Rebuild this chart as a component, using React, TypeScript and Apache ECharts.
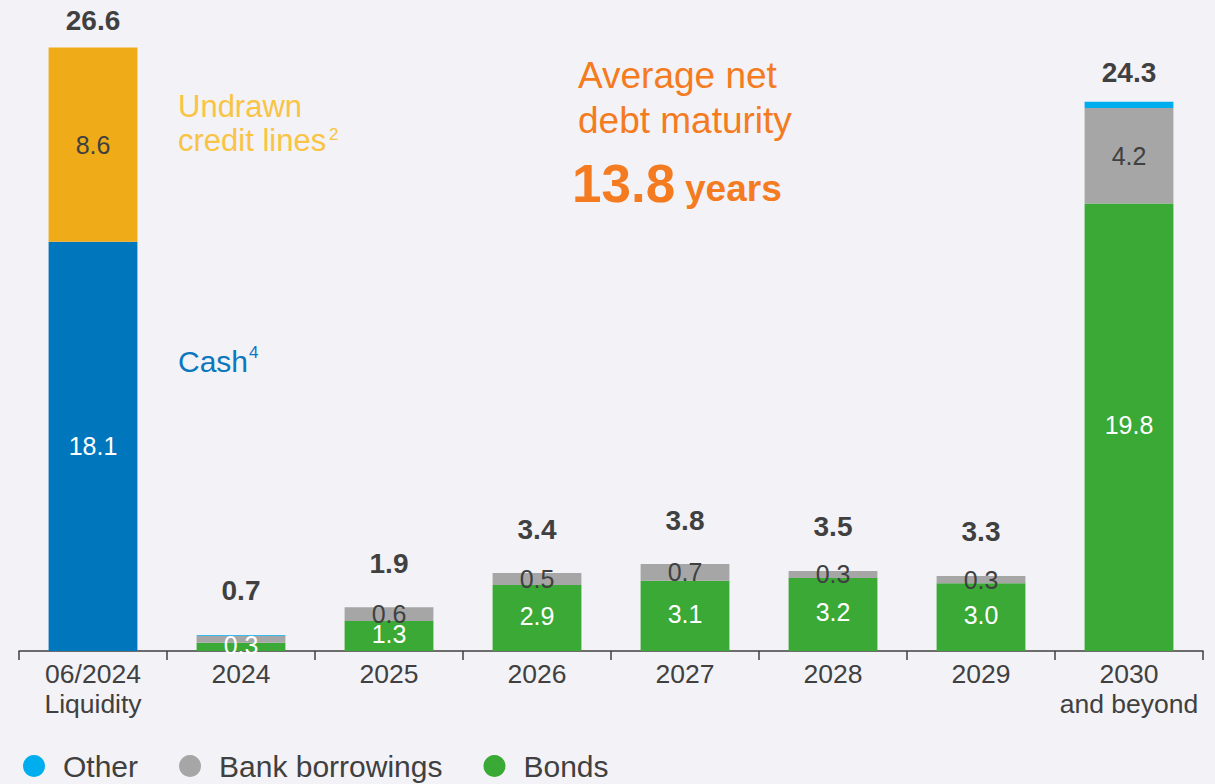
import React, { useEffect, useRef } from "react";
import * as echarts from "echarts";

const categories = ["06/2024\nLiquidity", "2024", "2025", "2026", "2027", "2028", "2029", "2030\nand beyond"];
const cash = [18.1, "-", "-", "-", "-", "-", "-", "-"];
const creditLines = [8.6, "-", "-", "-", "-", "-", "-", "-"];
const bonds = ["-", 0.37, 1.33, 2.92, 3.11, 3.23, 3.0, 19.8];
const bank = ["-", 0.31, 0.6, 0.53, 0.74, 0.31, 0.32, 4.22];
const other = ["-", 0.03, 0, 0, 0, 0, 0, 0.28];
const totals = [26.6, 0.7, 1.9, 3.4, 3.8, 3.5, 3.3, 24.3];
const cashLabels = ["18.1", "", "", "", "", "", "", ""];
const creditLabels = ["8.6", "", "", "", "", "", "", ""];
const bondsLabels = ["", "0.3", "1.3", "2.9", "3.1", "3.2", "3.0", "19.8"];
const bankLabels = ["", "", "0.6", "0.5", "0.7", "0.3", "0.3", "4.2"];
const totalLabels = ["26.6", "0.7", "1.9", "3.4", "3.8", "3.5", "3.3", "24.3"];

const FONT = "'Liberation Sans', Arial, sans-serif";
const DARK = "#404040";

export default function App() {
  const ref = useRef<HTMLDivElement>(null);
  useEffect(() => {
    document.body.style.margin = "0";
    const chart = echarts.init(ref.current!, null, { renderer: "svg" });
    const segLabel = (labels: string[], color: string) => ({
      show: true,
      position: "inside",
      color,
      fontSize: 25,
      fontFamily: FONT,
      formatter: (p: any) => labels[p.dataIndex] || "",
    });
    chart.setOption({
      animation: false,
      backgroundColor: "#f3f2f7",
      textStyle: { fontFamily: FONT },
      grid: { left: 19, right: 12, top: 18, bottom: 133 },
      legend: {
        data: ["Other", "Bank borrowings", "Bonds"],
        left: 18,
        top: 746,
        icon: "circle",
        itemWidth: 22,
        itemHeight: 22,
        itemGap: 41,
        textStyle: { fontSize: 30, color: DARK, fontFamily: FONT, padding: [0, 0, 0, 13] },
      },
      xAxis: {
        type: "category",
        data: categories,
        axisLine: { lineStyle: { color: DARK, width: 1.5 } },
        axisTick: { show: true, length: 9, interval: 0, lineStyle: { color: DARK, width: 1.5 } },
        axisLabel: { interval: 0, fontSize: 26.5, color: DARK, fontFamily: FONT, margin: 8, lineHeight: 30 },
      },
      yAxis: { type: "value", min: 0, max: 28, show: false },
      series: [
        { name: "Cash", type: "bar", stack: "a", barCategoryGap: "40%", data: cash, itemStyle: { color: "#0077bd" }, label: segLabel(cashLabels, "#ffffff") },
        { name: "Undrawn credit lines", type: "bar", stack: "a", data: creditLines, itemStyle: { color: "#efab18" }, label: segLabel(creditLabels, DARK) },
        { name: "Bonds", type: "bar", stack: "a", data: bonds, itemStyle: { color: "#3aa935" }, label: { ...segLabel(bondsLabels, "#ffffff"), offset: [0, -2] } },
        { name: "Bank borrowings", type: "bar", stack: "a", data: bank, itemStyle: { color: "#a6a6a6" }, label: segLabel(bankLabels, DARK) },
        { name: "Other", type: "bar", stack: "a", data: other, itemStyle: { color: "#00aeef" } },
        {
          name: "Totals",
          type: "scatter",
          data: totals.map((v) => ({ value: v, label: { distance: v > 10 ? 14 : 30 } })),
          symbol: "circle",
          symbolSize: 2,
          itemStyle: { color: "rgba(0,0,0,0)", opacity: 1 },
          z: 10,
          label: {
            show: true,
            position: "top",
            fontSize: 28,
            fontWeight: "bold",
            color: DARK,
            fontFamily: FONT,
            formatter: (p: any) => totalLabels[p.dataIndex],
          },
        },
      ],
      graphic: [
        { type: "text", left: 178, top: 91, style: { text: "Undrawn", fontSize: 31, fill: "#f9c443", fontFamily: FONT } },
        { type: "text", left: 178, top: 125, style: { text: "credit lines", fontSize: 31, fill: "#f9c443", fontFamily: FONT } },
        { type: "text", left: 329, top: 126, style: { text: "2", fontSize: 17, fill: "#f9c443", fontFamily: FONT } },
        { type: "text", left: 178, top: 346, style: { text: "Cash", fontSize: 30, fill: "#0a77bf", fontFamily: FONT } },
        { type: "text", left: 249, top: 344, style: { text: "4", fontSize: 17, fill: "#0a77bf", fontFamily: FONT } },
        { type: "text", left: 578, top: 57, style: { text: "Average net", fontSize: 37, fill: "#f47b20", fontFamily: FONT } },
        { type: "text", left: 578, top: 102, style: { text: "debt maturity", fontSize: 37, fill: "#f47b20", fontFamily: FONT } },
        { type: "text", left: 572, top: 157, style: { text: "13.8", fontSize: 53, fontWeight: "bold", fill: "#f47b20", fontFamily: FONT } },
        { type: "text", left: 685, top: 170, style: { text: "years", fontSize: 37, fontWeight: "bold", fill: "#f47b20", fontFamily: FONT } },
      ],
    });
    return () => chart.dispose();
  }, []);
  return <div ref={ref} style={{ width: 1215, height: 784, background: "#f3f2f7" }} />;
}
